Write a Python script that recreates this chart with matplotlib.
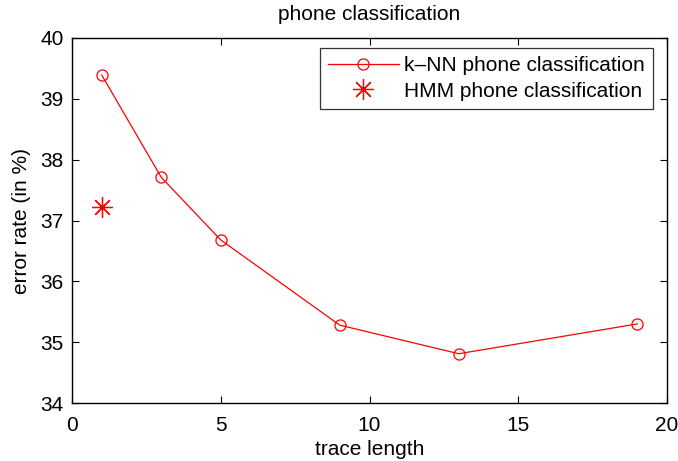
import matplotlib
matplotlib.use("Agg")
import matplotlib.pyplot as plt

plt.rcParams['font.family'] = ['Liberation Sans', 'DejaVu Sans']

trace_length = [1, 3, 5, 9, 13, 19]
knn_error = [39.39, 37.71, 36.68, 35.28, 34.81, 35.30]
hmm_trace = [1]
hmm_error = [37.23]

W, H = 678, 461
fig = plt.figure(figsize=(W / 100, H / 100), dpi=100)
ax = fig.add_axes([72 / W, 1 - 403 / H, (667 - 72) / W, (403 - 38) / H])

ax.plot(trace_length, knn_error, color='red', lw=0.9, marker='o', ms=8,
        mfc='none', mec='red', mew=0.9, label='k\u2013NN phone classification')
# MATLAB-style '*' marker made of four crossing strokes
ax.plot(hmm_trace, hmm_error, ls='none', color='red', marker=(8, 2, 0), ms=15,
        mew=0.9, label='HMM phone classification')

ax.set_xlim(0, 20)
ax.set_ylim(34, 40)
ax.set_xticks([0, 5, 10, 15, 20])
ax.set_yticks([34, 35, 36, 37, 38, 39, 40])
ax.tick_params(direction='in', top=True, right=True, labelsize=15, length=5,
               width=0.8)
ax.tick_params(axis='x', pad=9)
ax.tick_params(axis='y', pad=6)
for s in ax.spines.values():
    s.set_linewidth(1.0)

ax.set_title('phone classification', fontsize=15, pad=13)
ax.set_xlabel('trace length', fontsize=15, labelpad=4)
ax.set_ylabel('error rate (in %)', fontsize=15, labelpad=7)

leg = ax.legend(loc='upper right', fontsize=15, frameon=True, fancybox=False,
                edgecolor='black', borderpad=0.4, handlelength=3.4,
                handletextpad=0.25, labelspacing=0.3, borderaxespad=0,
                bbox_to_anchor=(653 / W, 1 - 48 / H),
                bbox_transform=fig.transFigure)
leg.get_frame().set_linewidth(0.9)

fig.savefig('out.png', dpi=100)
